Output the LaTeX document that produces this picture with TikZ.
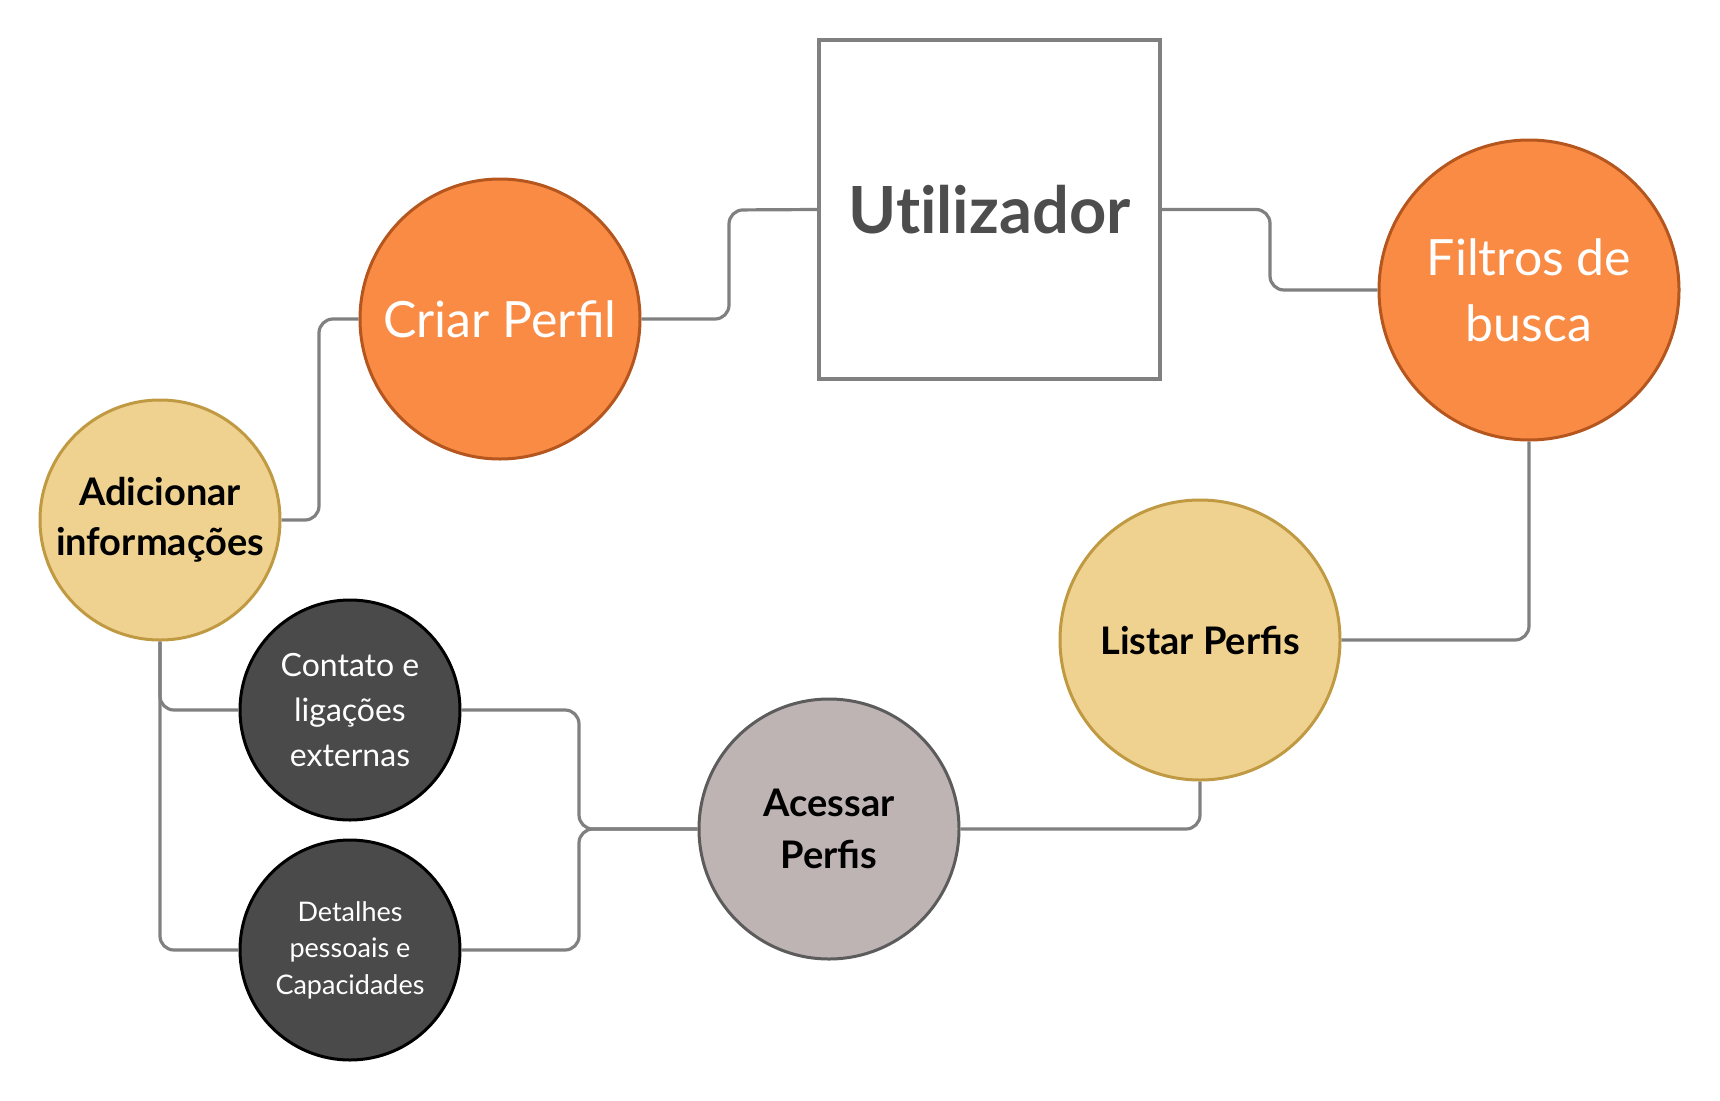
\documentclass[tikz,border=0pt]{standalone}
\usepackage{fontspec}
\setmainfont{Lato}
\usetikzlibrary{positioning}
\definecolor{laranja}{HTML}{F98B44}
\definecolor{laranjaEsc}{HTML}{B4561E}
\definecolor{amarelo}{HTML}{F0D290}
\definecolor{amareloEsc}{HTML}{C09A42}
\definecolor{cinzaEsc}{HTML}{4A4A4A}
\definecolor{rosado}{HTML}{BEB4B3}
\definecolor{linha}{HTML}{808080}
\definecolor{texto}{HTML}{4D4D4D}

\begin{document}
\begin{tikzpicture}[x=1pt,y=-1pt,
	bola/.style={circle,line width=3pt,align=center,inner sep=0pt},
	laranjada/.style={bola,fill=laranja,draw=laranjaEsc,text=white},
	amarela/.style={bola,fill=amarelo,draw=amareloEsc,text=black},
	escura/.style={bola,fill=cinzaEsc,draw=black,text=white,minimum size=220pt},
	ligacao/.style={draw=linha,line width=3.2pt,rounded corners=14pt}]
	%% bounding box
	\useasboundingbox (0,0) rectangle (1720,1100);

	% central box
	\node[draw=linha,line width=3.2pt,minimum width=341pt,minimum height=339pt,
		text=texto,font=\bfseries\fontsize{65}{70}\selectfont] (util) at (989.5,209.5) {Ut\kern0pt ilizador};

	% circles
	\node[laranjada,minimum size=280pt,font=\fontsize{50}{66}\selectfont] (criar) at (500,319) {Criar Perfil};
	\node[laranjada,minimum size=300pt,font=\fontsize{50}{66}\selectfont] (filtros) at (1529,290) {Filtros de\\busca};
	\node[amarela,minimum size=240pt,font=\bfseries\fontsize{38}{50}\selectfont] (adicionar) at (160,520) {Adicionar\\informações};
	\node[amarela,minimum size=280pt,font=\bfseries\fontsize{38}{50}\selectfont] (listar) at (1200,640) {Listar Perfis};
	\node[bola,fill=rosado,draw=cinzaEsc!90,minimum size=260pt,font=\bfseries\fontsize{38}{52}\selectfont] (acessar) at (829,829) {Acessar\\Perfis};
	\node[escura,font=\fontsize{32}{45}\selectfont] (contato) at (350,710) {Contato e\\ligações\\externas};
	\node[escura,font=\fontsize{27}{36.5}\selectfont] (detalhes) at (350,950) {Detalhes\\pessoais e\\Capacidades};

	% connectors
	\draw[ligacao] (criar.east) -| (729,210) -- (util.west);
	\draw[ligacao] (util.east) -| (1270,290) -- (filtros.west);
	\draw[ligacao] (filtros.south) |- (listar.east);
	\draw[ligacao] (listar.south) |- (acessar.east);
	\draw[ligacao] (contato.east) -| (579,829) -- (acessar.west);
	\draw[ligacao] (detalhes.east) -| (579,829) -- (acessar.west);
	\draw[ligacao] (adicionar.east) -| (319,319) -- (criar.west);
	\draw[ligacao] (adicionar.south) |- (contato.west);
	\draw[ligacao] (adicionar.south) |- (detalhes.west);

\end{tikzpicture}
\end{document}
